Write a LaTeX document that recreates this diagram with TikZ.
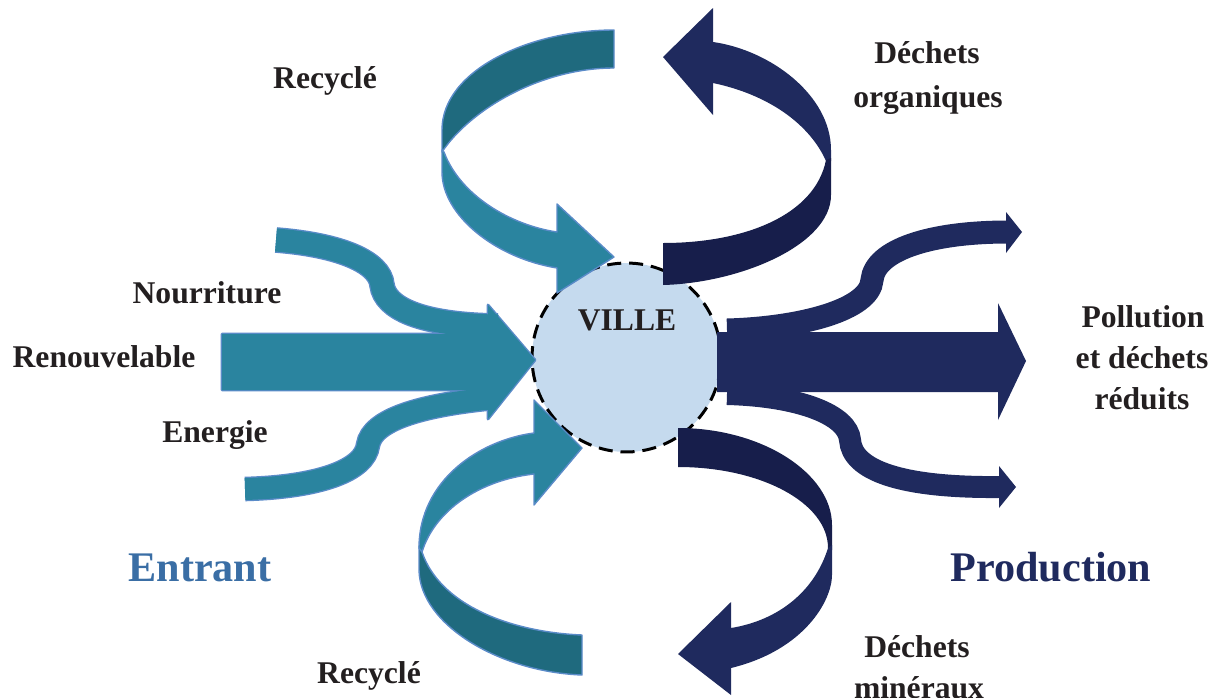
\documentclass[tikz,border=0pt]{standalone}
\usepackage{fontspec}
\setmainfont{Liberation Serif}
\definecolor{tealL}{HTML}{2A849F}
\definecolor{tealD}{HTML}{1F6A7E}
\definecolor{navyL}{HTML}{1F2A5E}
\definecolor{navyD}{HTML}{171E4B}
\definecolor{cityfill}{HTML}{C5DAEE}
\definecolor{edgeblue}{HTML}{5A8BC8}
\definecolor{ink}{HTML}{231F20}
\definecolor{entrantblue}{HTML}{3A6EA5}
\begin{document}
\begin{tikzpicture}[x=0.02cm,y=-0.02cm,
  lbl/.style={font=\fontsize{18}{22}\selectfont\bfseries, text=ink, inner sep=0pt, anchor=base},
  biglbl/.style={font=\fontsize{24}{29}\selectfont\bfseries, inner sep=0pt, anchor=base},
  tealedge/.style={draw=edgeblue, line width=0.8pt, line join=round},
  bandedge/.style={draw=edgeblue, line width=14.6pt},
  tealband/.style={draw=tealL, line width=13.09pt},
  navyband/.style={draw=navyL, line width=13.09pt}]
\useasboundingbox (0,0) rectangle (1221,697);

% the city
\node (ville) [circle, fill=cityfill, draw=black, line width=1.7pt,
  dash pattern=on 8pt off 4.5pt, minimum size=3.78cm, inner sep=0pt] at (626.5,357.5) {};

% upper recycling loop (teal)
\fill[tealD, tealedge] (614,30) .. controls (530,30) and (442,70) .. (442,130) -- (442,152)
  .. controls (470,110) and (540,68) .. (614,68) -- cycle;
\fill[tealL, tealedge] (442,150) -- (442,172) .. controls (442,215) and (495,258) .. (557,268)
  -- (557,293) -- (614,257) -- (557,204) -- (557,232)
  .. controls (510,225) and (460,195) .. (444,152) -- cycle;

% organic waste loop (navy)
\fill[navyL] (663,57) -- (713,8) -- (713,42) .. controls (770,50) and (831,95) .. (831,150)
  -- (831,161) -- (826,161) .. controls (810,125) and (770,95) .. (713,83) -- (713,115) -- cycle;
\fill[navyD] (826,160) -- (831,158) -- (831,195) .. controls (831,245) and (740,283) .. (663,285)
  -- (663,243) .. controls (745,243) and (815,215) .. (826,160) -- cycle;

% lower recycling loop (teal)
\fill[tealD, tealedge] (419,546) -- (419,570) .. controls (420,625) and (500,672) .. (582,675)
  -- (582,635) .. controls (510,632) and (440,605) .. (422,552) -- cycle;
\fill[tealL, tealedge] (582,448) -- (534,400) -- (534,433) .. controls (480,440) and (419,480) .. (419,548)
  -- (422,552) .. controls (435,510) and (480,480) .. (534,474) -- (534,505) -- cycle;

% mineral waste loop (navy)
\fill[navyD] (678,428) .. controls (763,428) and (832,474) .. (832,525) -- (832,550) -- (828,548)
  .. controls (828,503) and (761,467) .. (678,467) -- cycle;
\fill[navyL] (828,548) -- (832,545) -- (832,575) .. controls (832,600) and (805,650) .. (731,668)
  -- (731,695) -- (678,654) -- (731,602) -- (731,628)
  .. controls (780,620) and (815,590) .. (828,548) -- cycle;

% inputs: outline pass, then fill pass
\draw[bandedge] (276,240) .. controls (340,245) and (380,262) .. (382,285)
  .. controls (385,308) and (420,325) .. (498,326);
\draw[bandedge, line width=14pt] (245,489) .. controls (320,487) and (365,470) .. (368,445)
  .. controls (372,420) and (420,405) .. (495,398);
\draw[draw=edgeblue, line width=1.6pt, line join=round] (222,334) -- (488,334) -- (488,305) -- (535,360)
  -- (488,419) -- (488,390) -- (222,390) -- cycle;
\draw[tealband] (276,240) .. controls (340,245) and (380,262) .. (382,285)
  .. controls (385,308) and (420,325) .. (498,326);
\draw[tealband, line width=12.5pt] (245,489) .. controls (320,487) and (365,470) .. (368,445)
  .. controls (372,420) and (420,405) .. (495,398);
\fill[tealL] (222,334) -- (488,334) -- (488,305) -- (535,360)
  -- (488,419) -- (488,390) -- (222,390) -- cycle;

% outputs
\draw[navyband] (727,330) .. controls (800,328) and (870,310) .. (872,280)
  .. controls (875,250) and (930,232) .. (1008,232);
\fill[navyL] (1006,212) -- (1022,232) -- (1006,253) -- cycle;
\draw[navyband, line width=12.5pt] (727,394) .. controls (800,396) and (848,415) .. (850,440)
  .. controls (852,470) and (900,488) .. (1000,487);
\fill[navyL] (999,466) -- (1016,487) -- (999,508) -- cycle;
\fill[navyL] (717,332) -- (998,332) -- (998,303) -- (1026,361) -- (998,420) -- (998,392) -- (717,392) -- cycle;

% labels
\node[lbl] (villetxt) at (627,330) {VILLE};
\node[lbl] (recyhaut) at (325,88) {Recyclé};
\node[lbl] (orga1) at (927,63) {Déchets};
\node[lbl] (orga2) at (928,107) {organiques};
\node[lbl] (nourr) at (207,303) {Nourriture};
\node[lbl] (renouv) at (104,367) {Renouvelable};
\node[lbl] (energ) at (215,442) {Energie};
\node[lbl] (pol1) at (1143,327) {Pollution};
\node[lbl] (pol2) at (1142,368) {et déchets};
\node[lbl] (pol3) at (1142,409) {réduits};
\node[lbl] (recybas) at (369,683) {Recyclé};
\node[lbl] (mine1) at (917,657) {Déchets};
\node[lbl] (mine2) at (919,698) {minéraux};
\node[biglbl, text=entrantblue] (entrant) at (200,581) {Entrant};
\node[biglbl, text=navyL] (prod) at (1051,581) {Production};
\end{tikzpicture}
\end{document}
